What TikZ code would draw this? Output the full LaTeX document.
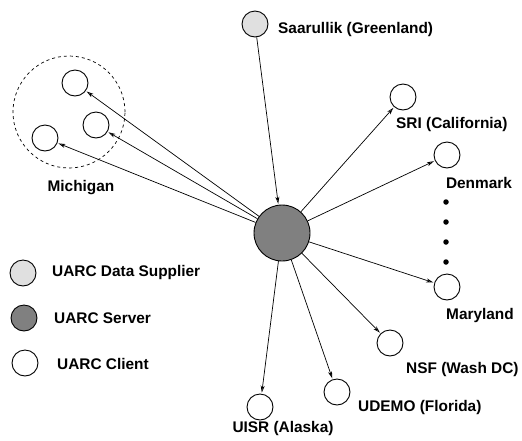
\documentclass[tikz,border=0pt]{standalone}
\usepackage{fontspec}
\setmainfont{Liberation Sans}
\usetikzlibrary{arrows.meta}
\begin{document}
\begin{tikzpicture}[x=1pt,y=-1pt,
  site/.style={circle,draw,line width=0.9pt,minimum size=26pt,inner sep=0pt,fill=white},
  supplier/.style={site,fill=black!12},
  server/.style={circle,draw,line width=0.9pt,minimum size=56pt,inner sep=0pt,fill=black!50},
  lbl/.style={font=\fontsize{15.4}{17}\selectfont\bfseries,inner sep=0pt},
  link/.style={line width=0.7pt,-{Stealth[length=7pt,width=4pt,inset=2pt,open]},shorten >=1pt},
  dot/.style={circle,fill=black,minimum size=5.5pt,inner sep=0pt}]
\useasboundingbox (0,0) rectangle (522,440);

% server and data supplier
\node[server] (srv) at (282,233) {};
\node[supplier] (saar) at (255,24) {};
\node[lbl,anchor=west] (saarL) at (278,30) {Saarullik (Greenland)};

% clients
\node[site] (sri) at (403,97) {};
\node[lbl,anchor=west] (sriL) at (396,125) {SRI (California)};
\node[site] (den) at (447,155) {};
\node[lbl] (denL) at (479,183) {Denmark};
\node[site] (mar) at (447,287) {};
\node[lbl] (marL) at (480,316) {Maryland};
\node[site] (nsf) at (390,343) {};
\node[lbl,anchor=west] (nsfL) at (406,370) {NSF (Wash DC)};
\node[site] (ude) at (337,392) {};
\node[lbl,anchor=west] (udeL) at (358,408) {UDEMO (Florida)};
\node[site] (uisr) at (260,407) {};
\node[lbl] (uisrL) at (283,429) {UISR (Alaska)};

% dots between Denmark and Maryland
\node[dot] (d1) at (446,202) {};
\node[dot] (d2) at (446,222) {};
\node[dot] (d3) at (446,242) {};
\node[dot] (d4) at (446,262) {};

% Michigan group
\node[circle,draw,dashed,line width=0.7pt,minimum size=112pt,inner sep=0pt] (mich) at (69,112) {};
\node[site] (m1) at (75,83) {};
\node[site] (m2) at (96,125) {};
\node[site] (m3) at (45,138) {};
\node[lbl] (michL) at (81,188) {Michigan};

% connectors
\draw[link] (saar) -- (srv);
\foreach \t in {sri,den,mar,nsf,ude,uisr,m1,m2,m3}
  \draw[link] (srv) -- (\t);

% legend
\node[supplier] (k1) at (23,273) {};
\node[lbl,anchor=west] (k1L) at (52,273) {UARC Data Supplier};
\node[server,minimum size=26pt] (k2) at (24,318) {};
\node[lbl,anchor=west] (k2L) at (54,318) {UARC Server};
\node[site] (k3) at (25,363) {};
\node[lbl,anchor=west] (k3L) at (57,364) {UARC Client};
\end{tikzpicture}
\end{document}
